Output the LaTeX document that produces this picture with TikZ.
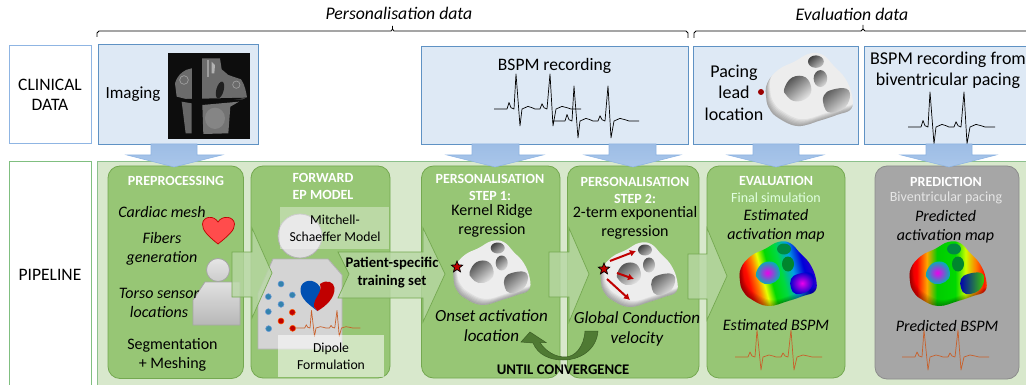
\documentclass[tikz,border=0pt]{standalone}
\usepackage{fontspec}
\setmainfont{Carlito}
\usetikzlibrary{shapes.geometric,arrows.meta}
\definecolor{bgreen}{HTML}{D8E8CC}
\definecolor{pgreen}{HTML}{97C675}
\definecolor{lgreen}{HTML}{74A850}
\definecolor{bluef}{HTML}{DEE9F5}
\definecolor{blues}{HTML}{5F92C4}
\definecolor{ecgo}{HTML}{C8602B}
\definecolor{dred}{HTML}{C00000}
\definecolor{bluea}{HTML}{9DBDE5}
\definecolor{blueb}{HTML}{A9C6EA}
\definecolor{bluec}{HTML}{8FB5E3}
\definecolor{garr}{HTML}{B7D7A3}
\definecolor{loopg}{HTML}{4F7A33}
\definecolor{loopd}{HTML}{3B5E25}
\pgfdeclarehorizontalshading{mapA}{100bp}{color(0bp)=(red!85!black);color(27bp)=(red!85!black);color(32bp)=(red!90!orange);color(37bp)=(orange);color(41bp)=(yellow!90!green);color(46bp)=(green!85!black);color(53bp)=(green!70!cyan!85!black);color(60bp)=(cyan!70!blue!90!black);color(67bp)=(blue!85!black);color(74bp)=(blue!60!violet);color(100bp)=(blue!60!violet)}
\pgfdeclarehorizontalshading{mapB}{100bp}{color(0bp)=(red!85!black);color(27bp)=(red!85!black);color(32bp)=(red);color(38bp)=(orange!70!yellow);color(44bp)=(green!80!black);color(55bp)=(green!85!black);color(61bp)=(yellow!80!green);color(67bp)=(orange);color(72bp)=(red!85!orange);color(75bp)=(orange);color(100bp)=(orange)}
\def\meshout{plot[smooth cycle,tension=.7] coordinates {(-37,6)(-36,-7)(-26,-19)(-12,-26)(1,-33)(13,-32)(23,-22)(33,-11)(39,4)(38,16)(26,21)(11,26)(-9,31)(-26,24)(-34,16)}}
\def\holeL{plot[smooth cycle,tension=.7] coordinates {(-21,-2)(-14,-12)(-2,-12)(3,-1)(-2,7)(-12,9)(-19,4)}}
\def\holeR{plot[smooth cycle,tension=.7] coordinates {(14,4)(21,-1)(34,-2)(37,6)(31,16)(19,19)(14,13)}}
\newcommand{\meshbase}[4]{%
  \begin{scope}[shift={(#1)},scale=#2]
    \begin{scope}
      \clip \meshout;
      #3
      \foreach \k in {1,2,3,4,5,6}{
       \fill[black,opacity=.055,even odd rule] (-50,-50) rectangle (50,50) [yshift=\k pt,xshift=.6*\k pt] \meshout;}
      #4
    \end{scope}
  \end{scope}}
\newcommand{\greymesh}[2]{\meshbase{#1}{#2}{\fill[white!93!black] (-50,-50) rectangle (50,50);}{%
  \shade[top color=black!70,bottom color=black!10,shading angle=40] \holeL;
  \shade[top color=black!75,bottom color=black!25,shading angle=40] (7,-26) ellipse[x radius=7,y radius=5.5];
  \shade[top color=black!65,bottom color=black!15,shading angle=40] (11,-11) ellipse[x radius=6,y radius=7.5];
  \shade[top color=black!65,bottom color=black!10,shading angle=40] \holeR;}}
\newcommand{\colormesh}[5]{\meshbase{#1}{#2}{\shade[shading=#3,shading angle=#4] (-42,-36) rectangle (42,36);}{%
  \shade[inner color=magenta!85!violet,middle color=blue!80!violet,outer color=cyan!70!black] \holeL;
  \fill[green!35!teal!80!black] (7,-26) ellipse[x radius=7,y radius=5.5];
  \fill[green!50!teal!70!black] (11,-11) ellipse[x radius=6,y radius=7.5];
  #5}}
\newcommand{\ecg}[4]{\draw[#4,line width=.7pt,line join=round,shift={(#1)},xscale=#2,yscale=#3]
 (0,0)--(13,0)--(15,-5)--(17,-1)--(20,0)--(22,-27)--(26,13)--(28,0)--(31,-1)--(34,-2)--(38,-1)--(41,0)--(46,0)--(48,-4)--(50,-1)--(53,0)--(56,-27)--(59,13)--(62,0)--(65,-1)--(68,-2)--(73,-1)--(77,0)--(87,0);}
\tikzset{
 txt/.style={font=\fontsize{16}{16}\selectfont,text=black,inner sep=0pt,align=center},
 big/.style={font=\fontsize{17.5}{17.5}\selectfont,text=black,inner sep=0pt,align=center},
 itx/.style={font=\fontsize{16}{16}\selectfont\itshape,text=black,inner sep=0pt,align=center},
 bit/.style={font=\fontsize{17}{17}\selectfont\itshape,text=black,inner sep=0pt,align=center},
 hit/.style={font=\fontsize{17.7}{17.7}\selectfont\itshape,text=black,inner sep=0pt,align=center},
 smt/.style={font=\fontsize{13.7}{13.7}\selectfont,text=black,inner sep=0pt,align=center},
 wht/.style={font=\fontsize{14}{14}\selectfont\bfseries,text=white,inner sep=0pt,align=center},
 wsub/.style={font=\fontsize{14}{14}\selectfont,text=white!88!green,inner sep=0pt,align=center},
 bld/.style={font=\fontsize{14.7}{14.7}\selectfont\bfseries,text=black,inner sep=0pt,align=center},
 panel/.style={draw=lgreen,fill=pgreen,line width=.8pt,rounded corners=12pt,inner sep=0pt},
 gpanel/.style={draw=black!45,fill=black!35,line width=.8pt,rounded corners=12pt,inner sep=0pt},
 sbox/.style={draw=blues,fill=bluef,line width=.9pt,inner sep=0pt},
 lblc/.style={draw=bluec,line width=1pt,fill=white,inner sep=0pt},
 lblp/.style={draw=green!50!black!50!white,line width=1pt,fill=white,inner sep=0pt},
 blueshape/.style={draw=bluec,line width=.6pt,top color=bluea,bottom color=blueb},
 garrow/.style={draw=lgreen,line width=.7pt,fill=garr,fill opacity=.8},
 gauze/.style={fill=white,fill opacity=.35,inner sep=0pt},
 persong/.style={draw=black!35,line width=.8pt,top color=black!12,bottom color=black!28},
 brk/.style={draw=black,line width=.8pt,line join=round},
 rarr/.style={draw=dred,line width=2pt,-{Latex[length=6pt,width=7pt]}},
 sstar/.style={star,star points=5,star point ratio=2.3,draw=black,fill=dred,line width=.7pt,minimum size=12pt,inner sep=0pt}
}
\begin{document}
\begin{tikzpicture}[x=1pt,y=-1pt]
\useasboundingbox (0,0) rectangle (1026,385);
\fill[white] (0,0) rectangle (1026,385);
% left labels
\node[lblc,minimum width=82pt,minimum height=98pt] (clin) at (50,94.5) {};
\node[big] (clint) at (50,95) {CLINICAL\\[3pt]DATA};
\node[lblp,minimum width=82pt,minimum height=226pt] (pipe) at (50,275) {};
\node[big] (pipet) at (50,275) {PIPELINE};
% green band
\node[draw=green!45!black!45!white,fill=bgreen,line width=1pt,inner sep=0pt,minimum width=940pt,minimum height=226pt] (band) at (567.5,275) {};
% brackets
\draw[brk] (97,37) -- (97,33) to[out=-90,in=180] (99,31) -- (391,31) to[out=0,in=90] (392.5,29) -- (392.5,26) (392.5,29) to[out=90,in=180] (394,31) -- (686,31) to[out=0,in=-90] (688,33) -- (688,38);
\draw[brk] (694,38) -- (694,33) to[out=-90,in=180] (696,31) -- (861,31) to[out=0,in=90] (863,29) -- (863,25) (863,29) to[out=90,in=180] (865,31) -- (1026,31);
\node[hit] (pers) at (399,13) {Personalisation data};
\node[hit] (eval) at (852,14.5) {Evaluation data};
% clinical boxes
\node[sbox,minimum width=160pt,minimum height=100pt] (imgb) at (178,94) {};
\node[sbox,minimum width=267pt,minimum height=98pt] (bspmb) at (554.5,95) {};
\node[sbox,minimum width=165pt,minimum height=98pt] (pacb) at (776,95) {};
\node[sbox,minimum width=170pt,minimum height=98pt] (bvb) at (949.5,95) {};
% CT image
\node[fill=black!95,minimum width=82pt,minimum height=86pt,inner sep=0pt] (ct) at (209,96) {};
\begin{scope}[shift={(165,50)},scale=.3333]
 \fill[black!58] (30,100) .. controls (38,72) and (60,58) .. (80,55) -- (112,50) -- (104,25) -- (165,25) -- (170,58) -- (190,75) -- (228,88) .. controls (240,105) and (243,125) .. (246,142) -- (232,148) -- (185,148) -- (110,150) -- (80,150) -- (55,145) -- (35,140) -- cycle;
 \fill[black!55] (112,165) -- (222,155) -- (196,170) -- (190,250) -- (115,252) -- cycle;
 \fill[black!60] (50,155) -- (80,160) -- (80,250) -- (62,250) -- cycle;
 \fill[black!95] (80,20) rectangle (110,265);
 \fill[black!95] (20,148) -- (248,143) -- (190,152) -- (80,157) -- cycle;
 \fill[black!88] (165,120) ellipse[x radius=11,y radius=26,rotate=-15];
 \fill[black!38] (125,30) -- (132,30) -- (132,80) -- (125,80) -- cycle;
 \fill[black!30] (140,35) -- (150,45) -- (148,70) -- (140,70) -- cycle;
 \draw[black!38,line width=.7pt] (57,90) circle[radius=13];
 \draw[black!38,line width=.7pt] (214,104) circle[radius=11];
 \fill[black!48] (150,205) ellipse[x radius=30,y radius=32];
\end{scope}
\node[txt,font=\fontsize{17}{17}\selectfont] (imgt) at (133,94) {Imaging};
\node[big] (bspt) at (554.5,66) {BSPM recording};
\node[big,font=\fontsize{18}{18}\selectfont] (pact) at (734,92.5) {Pacing\\[3.5pt]lead\\[3.5pt]location};
\node[big,font=\fontsize{18}{18}\selectfont] (bvt) at (948,70.5) {BSPM recording from\\[3.5pt]biventricular pacing};
\ecg{494,109}{1}{1.3}{black}
\ecg{552,121}{1}{1.3}{black}
\ecg{908,127}{1}{1.3}{black}
\greymesh{808,91}{1.13}
\node[circle,fill=dred!80!black,minimum size=6pt,inner sep=0pt] (pdot) at (761,92) {};
% pipeline panels
\node[panel,minimum width=135.5pt,minimum height=212.5pt] (prep) at (175.75,272.25) {};
\node[panel,minimum width=139pt,minimum height=212pt] (fwd) at (320.5,272) {};
\node[panel,minimum width=138.5pt,minimum height=212pt] (st1) at (490.75,272) {};
\node[panel,minimum width=131.5pt,minimum height=212pt] (st2) at (633.25,272) {};
\node[panel,minimum width=138pt,minimum height=212pt] (ev) at (776,272) {};
\node[gpanel,minimum width=144pt,minimum height=213pt] (pred) at (947,272.5) {};
% blue arrows
\foreach \a/\b/\c/\d/\t in {151/197/127/222/174,472/519/447/543/495,609/656/585/680/633,753/799/728/823/776,926/972/901/996/949}{
 \draw[blueshape] (\a,144) -- (\b,144) -- (\b,155) -- (\d,155) -- (\t,167) -- (\c,155) -- (\a,155) -- cycle;}
% preprocessing
\node[wht] (prept) at (176,181) {PREPROCESSING};
\node[circle,persong,top color=black!10,bottom color=black!20,minimum size=23pt,inner sep=0pt] (phead) at (218,270) {};
\draw[persong] (193,325) -- (193,300) -- (205,282) -- (240,282) -- (240,325) -- cycle;
\draw[draw=red!75!black,fill=red!70!white,line width=.7pt] (218,244) .. controls (208,236) and (202,230) .. (202.5,224) .. controls (203,216) and (214,215) .. (218,222) .. controls (222,215) and (234,216) .. (234.5,224) .. controls (235,230) and (228,236) .. (218,244) -- cycle;
\node[itx] (p1) at (162,212) {Cardiac mesh};
\node[itx] (p2) at (162,248.5) {Fibers\\[3pt]generation};
\node[itx] (p3) at (159,302.5) {Torso sensor\\[3pt]locations};
\node[txt] (p4) at (172.5,354.5) {Segmentation\\[3pt]+ Meshing};
% forward
\node[wht] (fwdt) at (323,186.5) {FORWARD\\[3pt]EP MODEL};
\node[circle,draw=black!30,line width=.8pt,fill=black!13,minimum size=44pt,inner sep=0pt] (fhead) at (300,236) {};
\draw[draw=black!30,line width=.8pt,fill=black!17] (273,259) -- (328,259) -- (342,275) -- (342,349) -- (258,349) -- (258,293) -- cycle;
\foreach \n/\x/\y in {a/543/372,b/505/410,c/577/405,d/543/433,e/505/455,f/506/506}{
 \pgfmathsetmacro{\px}{100+\x/3}\pgfmathsetmacro{\py}{160+\y/3}
 \node[circle,fill=blue!35!cyan!60!black!80!white,draw=cyan!50!blue!60!white,line width=.5pt,minimum size=6pt,inner sep=0pt] (bd\n) at (\px,\py) {};}
\foreach \n/\x/\y in {a/577/457,b/543/483,c/578/505}{
 \pgfmathsetmacro{\px}{100+\x/3}\pgfmathsetmacro{\py}{160+\y/3}
 \node[circle,fill=dred,draw=orange!70!red,line width=.5pt,minimum size=6pt,inner sep=0pt] (rd\n) at (\px,\py) {};}
\fill[blue!55!cyan!70!black] (317.5,311) .. controls (308,304) and (300,298) .. (300.5,289) .. controls (301,280) and (314,277) .. (320,287) .. controls (322,293) and (314,302) .. (314,307) -- cycle;
\fill[dred] (317.5,311) .. controls (326,306) and (335,298) .. (334.5,288) .. controls (334,282) and (327,279) .. (320,284) .. controls (323,293) and (313,298) .. (314,307) -- cycle;
\ecg{295,328}{.75}{.65}{ecgo}
\node[gauze,minimum width=109pt,minimum height=42pt] (msb) at (334.5,228) {};
\node[gauze,fill opacity=.55,minimum width=106pt,minimum height=42pt] (dfb) at (331,356) {};
\node[smt] (mst) at (335,228) {Mitchell-\\[3.5pt]Schaeffer Model};
\node[smt] (dft) at (331,356) {Dipole\\[3.5pt]Formulation};
% green arrows
\draw[garrow] (232,252) -- (252,252) -- (252,228) -- (272,273) -- (252,318) -- (252,297) -- (232,297) -- cycle;
\draw[garrow] (338,252) -- (423,252) -- (423,228) -- (445,274) -- (423,322) -- (423,298) -- (338,298) -- (349,274) -- cycle;
% step 1
\node[wht] (s1a) at (490,187) {PERSONALISATION\\[3pt]STEP 1:};
\node[txt] (s1b) at (492,220.5) {Kernel Ridge\\[3pt]regression};
\greymesh{490.7,274}{1}
\node[bit] (s1c) at (491.5,326) {Onset activation\\[3pt]location};
\node[sstar] (st1s) at (457,267) {};
% step 2
\draw[garrow] (549,252) -- (569,252) -- (569,228) -- (589,274) -- (569,322) -- (569,297) -- (549,297) -- cycle;
\node[wht] (s2a) at (635,190.5) {PERSONALISATION\\[3pt]STEP 2:};
\node[txt] (s2b) at (635,222.5) {2-term exponential\\[3pt]regression};
\greymesh{638,276}{1}
\node[sstar] (st2s) at (604,269) {};
\coordinate (ra1) at (610,261);\coordinate (rb1) at (636,251);
\coordinate (ra2) at (617,273);\coordinate (rb2) at (634,279);
\coordinate (ra3) at (607,279);\coordinate (rb3) at (630,300);
\draw[rarr] (ra1) -- (rb1);
\draw[rarr] (ra2) -- (rb2);
\draw[rarr] (ra3) -- (rb3);
\node[bit] (s2c) at (637,329) {Global Conduction\\[3pt]velocity};
% loop arrow
\fill[loopg,draw=loopd,line width=.5pt]
 (598,331) .. controls (596.5,350) and (580,360) .. (563,360) .. controls (550,360) and (538,355) .. (533,343)
 -- (521,342) -- (530,332) -- (546,342.5) -- (540,342.5) .. controls (546,352) and (556,357) .. (565,357) .. controls (575,357) and (584,347) .. (585,331) -- cycle;
\node[bld] (conv) at (563,370) {UNTIL CONVERGENCE};
% evaluation
\draw[garrow] (688,254) -- (707,254) -- (707,228) -- (727,276) -- (707,320) -- (707,299) -- (688,299) -- cycle;
\node[wht] (evt) at (776,181) {EVALUATION};
\node[wsub] (evs) at (776,198) {Final simulation};
\node[itx] (evi) at (776,225.5) {Estimated\\[3pt]activation map};
\colormesh{777,275}{1}{mapA}{15}{\shade[inner color=magenta!85!violet,middle color=violet!90!blue,outer color=blue!80!black] \holeR;}
\node[itx] (evb) at (776,325) {Estimated BSPM};
\ecg{735,357}{1}{1}{ecgo}
% prediction
\node[wht] (prt) at (946,182) {PREDICTION};
\node[wsub,text=white!90!black] (prs) at (946,198) {Biventricular pacing};
\node[itx] (pri) at (945.5,227) {Predicted\\[3pt]activation map};
\colormesh{947,275}{1}{mapB}{0}{\shade[left color=blue!70!black,middle color=cyan!50!green!80!black,right color=green!70!yellow!80!black] \holeR;}
\node[itx] (prb) at (947,326) {Predicted BSPM};
\ecg{902,357}{1}{1}{ecgo}
% training label
\node[bld] (train) at (392,272.5) {Patient-specific\\[3pt]training set};
\end{tikzpicture}
\end{document}
